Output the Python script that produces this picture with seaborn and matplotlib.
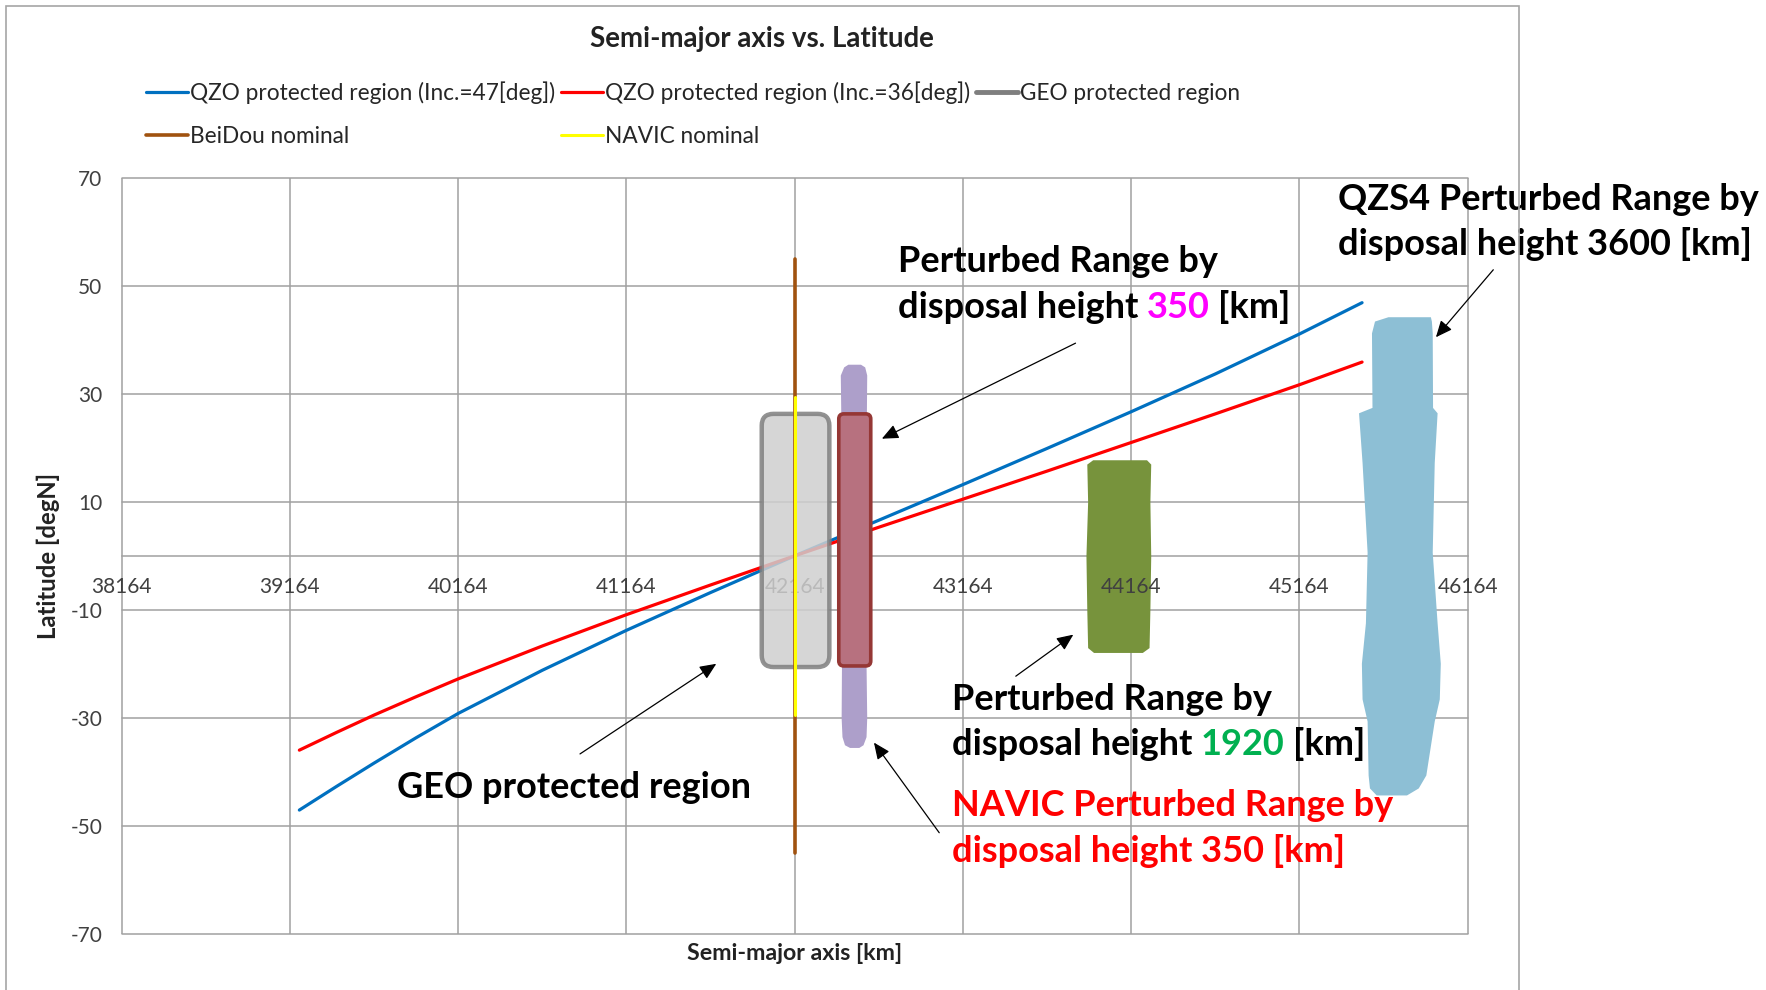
import seaborn as sns
from matplotlib import pyplot as plt
from matplotlib.lines import Line2D
from matplotlib.patches import FancyBboxPatch, Rectangle

# ---- data ----
x_ticks = [38164, 39164, 40164, 41164, 42164, 43164, 44164, 45164, 46164]
y_ticks = [-70, -50, -30, -10, 10, 30, 50, 70]

# QZO protected region, inclination 47 deg
qzo47_sma = [39220, 39442, 39664, 39914, 40164, 40664, 41164, 41664, 42164, 42664, 43164,
             43664, 44164, 44664, 45164, 45536]
qzo47_lat = [-47.1, -42.7, -38.4, -33.7, -29.2, -21.2, -13.8, -6.8, 0.0, 6.6, 13.2,
             19.9, 26.7, 33.7, 41.1, 46.9]

# QZO protected region, inclination 36 deg
qzo36_sma = [39220, 39442, 39664, 39914, 40164, 40664, 41164, 41664, 42164, 42664, 43164,
             43664, 44164, 44664, 45164, 45536]
qzo36_lat = [-36.0, -32.7, -29.5, -26.1, -22.8, -16.7, -10.9, -5.4, 0.0, 5.3, 10.5,
             15.7, 21.0, 26.3, 31.7, 35.9]

beidou_sma = [42164, 42164]
beidou_lat = [-55.0, 55.0]
navic_sma = [42164, 42164]
navic_lat = [-29.5, 29.5]

# boxes: (sma min, sma max), (lat min, lat max)
geo_box_sma = [41968, 42370]
geo_box_lat = [-20.6, 26.3]
navic_box_sma = [42426, 42616]
navic_box_lat = [-20.4, 26.3]

# perturbed ranges (outline profiles)
p350_lat = [35.5, 35.0, 33.5, 26.0, 0.0, -20.0, -30.0, -33.5, -35.0, -35.5]
p350_left = [42480, 42455, 42435, 42438, 42442, 42442, 42440, 42445, 42460, 42490]
p350_right = [42555, 42580, 42592, 42590, 42588, 42588, 42592, 42588, 42570, 42545]

p1920_lat = [17.8, 17.0, 10.0, 0.0, -10.0, -17.0, -17.9]
p1920_left = [43935, 43900, 43905, 43895, 43900, 43905, 43940]
p1920_right = [44255, 44280, 44275, 44280, 44275, 44270, 44230]

qzs4_lat = [44.3, 43.5, 41.3, 27.5, 26.5, 17.3, 0.7, -12.4, -19.9, -26.5, -30.6, -40.6, -43.0, -44.3]
qzs4_left = [45690, 45610, 45592, 45595, 45515, 45536, 45566, 45556, 45532, 45536, 45566, 45572, 45580, 45620]
qzs4_right = [45942, 45948, 45953, 45955, 45982, 45965, 45953, 45982, 46001, 45995, 45965, 45915, 45870, 45800]

sns.set_style("white")
plt.rcParams['font.family'] = ['Lato', 'DejaVu Sans']
plt.rcParams['axes.unicode_minus'] = False

fig = plt.figure(figsize=(17.66, 9.90), dpi=100)
ax = fig.add_axes([0.0689, 0.0569, 0.7622, 0.7633])

# chart frame
fig.add_artist(Rectangle((0.0034, -0.01), 0.857, 1.004, transform=fig.transFigure,
                         fill=False, edgecolor='#a6a6a6', lw=1.2))

grid_c = '#a0a0a0'
ax.set_xlim(x_ticks[0], x_ticks[-1])
ax.set_ylim(y_ticks[0], y_ticks[-1])
ax.set_xticks(x_ticks)
ax.set_yticks(y_ticks)
ax.grid(True, axis='y', color=grid_c, lw=1.1, clip_on=False)
# vertical gridlines kept under the perturbed-range shapes
ax.vlines(x_ticks, y_ticks[0], y_ticks[-1], colors=grid_c, lw=1.1, zorder=1.5, clip_on=False)
ax.xaxis.set_zorder(2.5)
ax.yaxis.set_zorder(1.5)
for side in ['left', 'right', 'top']:
    ax.spines[side].set_visible(False)
ax.spines['bottom'].set_position(('data', 0))
ax.spines['bottom'].set_color(grid_c)
ax.spines['bottom'].set_linewidth(1.1)
ax.spines['bottom'].set_zorder(1.5)
ax.tick_params(axis='x', length=0, pad=15, labelsize=15, labelcolor='#404040')
ax.tick_params(axis='y', length=0, pad=14, labelsize=15, labelcolor='#404040')

# perturbed ranges behind
ax.fill_betweenx(p1920_lat, p1920_left, p1920_right, color='#77933c', lw=0, zorder=1.8)
ax.fill_betweenx(qzs4_lat, qzs4_left, qzs4_right, color='#8dbfd5', lw=0, zorder=1.8)

sns.lineplot(x=qzo47_sma, y=qzo47_lat, ax=ax, color='#0070c0', lw=2.3, sort=False,
             estimator=None, label='QZO protected region (Inc.=47[deg])', zorder=2.6)
sns.lineplot(x=qzo36_sma, y=qzo36_lat, ax=ax, color='#ff0000', lw=2.3, sort=False,
             estimator=None, label='QZO protected region (Inc.=36[deg])', zorder=2.6)

geo = FancyBboxPatch((geo_box_sma[0], geo_box_lat[0]), geo_box_sma[1] - geo_box_sma[0],
                     geo_box_lat[1] - geo_box_lat[0],
                     boxstyle='round,pad=0,rounding_size=70', mutation_aspect=0.0312,
                     facecolor='#cfcfcf', edgecolor='#7f7f7f', lw=3.2, alpha=0.85, zorder=3)
ax.add_patch(geo)

ax.fill_betweenx(p350_lat, p350_left, p350_right, color='#ad9fca', lw=0, zorder=3.1)

navic = FancyBboxPatch((navic_box_sma[0], navic_box_lat[0]), navic_box_sma[1] - navic_box_sma[0],
                       navic_box_lat[1] - navic_box_lat[0],
                       boxstyle='round,pad=0,rounding_size=30', mutation_aspect=0.0312,
                       facecolor='#b7717f', edgecolor='#953735', lw=2.6, zorder=3.2)
ax.add_patch(navic)

sns.lineplot(x=beidou_sma, y=beidou_lat, ax=ax, color='#a0520f', lw=2.6, sort=False,
             estimator=None, label='BeiDou nominal', zorder=3.5)
sns.lineplot(x=navic_sma, y=navic_lat, ax=ax, color='#ffff00', lw=2.2, sort=False,
             estimator=None, label='NAVIC nominal', zorder=3.6)

ax.set_xlabel('Semi-major axis [km]', fontsize=16.7, fontweight='bold', color='#222222')
ax.set_ylabel('Latitude [degN]', fontsize=17.2, fontweight='bold', color='#222222')
ax.xaxis.set_label_coords(0.5, -0.013)
ax.yaxis.set_label_coords(-0.046, 0.5)

# legend, laid out row by row like the original
handles, labels = ax.get_legend_handles_labels()
ax.get_legend().remove()
geo_handle = Line2D([], [], color='#7f7f7f', lw=3.5)
hmap = dict(zip(labels, handles))
order = ['QZO protected region (Inc.=47[deg])', 'BeiDou nominal',
         'QZO protected region (Inc.=36[deg])', 'NAVIC nominal']
leg_h = [hmap[order[0]], hmap[order[1]], hmap[order[2]], hmap[order[3]], geo_handle]
leg_l = order + ['GEO protected region']
fig.legend(leg_h, leg_l, ncol=3, loc='center left', bbox_to_anchor=(146 / 1766, 1 - 114 / 990),
           frameon=False, fontsize=16.3, handlelength=1.85, handletextpad=0.1,
           columnspacing=0.25, labelspacing=0.98, borderpad=0, borderaxespad=0)

fig.text(762 / 1766, 1 - 39 / 990, 'Semi-major axis vs. Latitude', ha='center', va='center',
         fontsize=19.9, fontweight='bold', color='#222222')

# annotations
big = dict(fontsize=26, fontweight='bold', va='center', ha='left')


def two_color(x, y, head, num, tail, base_c, num_c):
    t = ax.text(x, y, head, color=base_c, **big)
    t2 = ax.annotate(num, xy=(1, 0), xycoords=t, xytext=(6, 0), textcoords='offset points',
                     color=num_c, fontsize=26, fontweight='bold', va='bottom', ha='left')
    ax.annotate(tail, xy=(1, 0), xycoords=t2, xytext=(6, 0), textcoords='offset points',
                color=base_c, fontsize=26, fontweight='bold', va='bottom', ha='left')


ax.text(42778, 54.6, 'Perturbed Range by', color='black', **big)
two_color(42778, 46.0, 'disposal height', '350', '[km]', 'black', '#ff00ff')

ax.text(45395, 66.0, 'QZS4 Perturbed Range by', color='black', **big)
ax.text(45395, 57.7, 'disposal height 3600 [km]', color='black', **big)

ax.text(43099, -26.6, 'Perturbed Range by', color='black', **big)
two_color(43099, -34.9, 'disposal height', '1920', '[km]', 'black', '#00b050')

ax.text(43099, -46.2, 'NAVIC Perturbed Range by', color='#ff0000', **big)
ax.text(43099, -54.6, 'disposal height 350 [km]', color='#ff0000', **big)

ax.text(39798, -42.9, 'GEO protected region', color='black', **big)

arrow = dict(arrowstyle='-|>,head_length=0.5,head_width=0.22', color='black', lw=0.9,
             mutation_scale=20, shrinkA=0, shrinkB=0)
arrows = [((43833, 39.4), (42682, 21.7)),
          ((46316, 53.0), (45975, 40.5)),
          ((43478, -22.3), (43820, -14.6)),
          ((43023, -51.3), (42635, -34.6)),
          ((40888, -36.7), (41698, -20.0))]
for tail, head in arrows:
    ax.annotate('', xy=head, xytext=tail, arrowprops=arrow, zorder=4)

fig.savefig('out.png', dpi=100)
